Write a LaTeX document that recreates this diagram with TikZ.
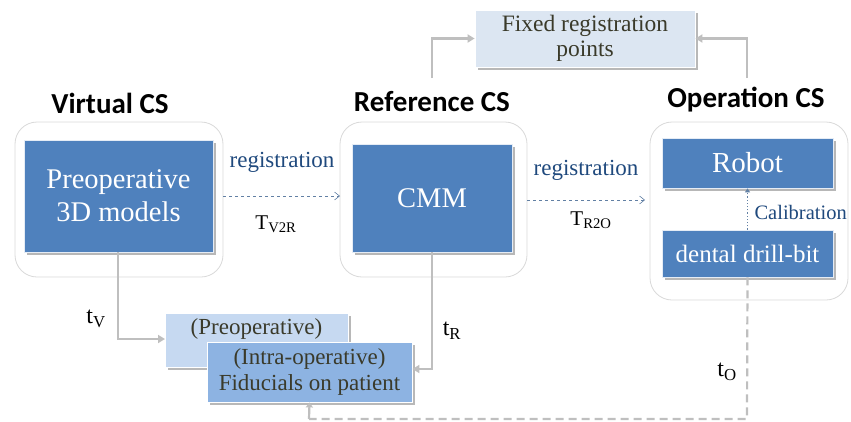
\documentclass[tikz,border=0pt]{standalone}
\usepackage{fontspec}
\setmainfont{Liberation Serif}
\newfontfamily\titlefont{Carlito}
\usetikzlibrary{arrows.meta,shadows}
\definecolor{boxblue}{HTML}{4F81BD}
\definecolor{lightblue}{HTML}{C6D9F1}
\definecolor{fixblue}{HTML}{DCE6F2}
\definecolor{midblue}{HTML}{8DB3E2}
\definecolor{regblue}{HTML}{1F497D}
\definecolor{txtdark}{HTML}{3A3A2A}
\definecolor{linegray}{HTML}{BFBFBF}
\definecolor{outergray}{HTML}{D9D9D9}
\tikzset{
  outerbox/.style={draw=outergray, rounded corners=22pt, line width=0.8pt, fill=white},
  bluebox/.style={fill=boxblue, draw=white!85!boxblue, line width=0.8pt, text=white,
     drop shadow={shadow xshift=2.5pt, shadow yshift=-2.5pt, fill=gray!70, opacity=0.8}},
  lightbox/.style={draw=white, line width=0.8pt, text=txtdark,
     drop shadow={shadow xshift=2.5pt, shadow yshift=-2.5pt, fill=gray!70, opacity=0.8}},
  cstitle/.style={font=\titlefont\bfseries\fontsize{29}{33}\selectfont, text=black},
  reglabel/.style={text=regblue, font=\fontsize{23}{26}\selectfont},
  tlabel/.style={text=black, font=\fontsize{21}{24}\selectfont},
  regarrow/.style={draw=regblue!70, dashed, line width=0.6pt, -{Straight Barb[length=5pt,width=8pt]}},
  grayarrow/.style={draw=linegray, line width=2.2pt, -{Triangle[length=7pt,width=8pt]}},
  graydash/.style={draw=linegray, line width=2.2pt, dash pattern=on 8pt off 5pt},
}
\begin{document}
\begin{tikzpicture}[x=1pt,y=-1pt]
\useasboundingbox (0,0) rectangle (851,421);
% outer boxes
\draw[outerbox] (15,122) rectangle (223,277);
\draw[outerbox] (340,122) rectangle (527,277);
\draw[outerbox] (650,122) rectangle (848,300);
% titles
\node[cstitle] (vt) at (110,103) {Virtual CS};
\node[cstitle] (rt) at (432,102) {Reference CS};
\node[cstitle] (ot) at (746,100) {Operation CS};
% blue boxes
\node[bluebox, minimum width=189pt, minimum height=112pt, align=center,
      font=\fontsize{28.5}{33}\selectfont] (pre) at (118.5,196) {Preoperative\\3D models};
\node[bluebox, minimum width=160pt, minimum height=108pt,
      font=\fontsize{28.5}{33}\selectfont] (cmm) at (432,198) {CMM};
\node[bluebox, minimum width=171pt, minimum height=50pt,
      font=\fontsize{29}{33}\selectfont] (robot) at (747.5,163) {Robot};
\node[bluebox, minimum width=171pt, minimum height=47pt,
      font=\fontsize{25}{29}\selectfont] (drill) at (747.5,253.5) {dental drill-bit};
% fixed registration points
\node[lightbox, fill=fixblue, minimum width=220pt, minimum height=57pt, align=center,
      font=\fontsize{23.5}{25}\selectfont] (fix) at (585,38.5) {Fixed registration\\points};
% preoperative fiducials
\node[lightbox, fill=lightblue, minimum width=183pt, minimum height=54pt, anchor=north west] (pfid) at (165,313) {};
\node[text=txtdark, font=\fontsize{23}{26}\selectfont] (pfidtxt) at (256.5,329) {(Preoperative)};
\node[lightbox, fill=midblue, minimum width=205pt, minimum height=60pt, align=center,
      font=\fontsize{23}{26}\selectfont] (ifid) at (309.5,372) {(Intra-operative)\\Fiducials on patient};
% registration arrows
\coordinate (r1s) at (223,196);
\coordinate (r1e) at (340,196);
\draw[regarrow] (r1s) -- (r1e);
\node[reglabel] (reg1) at (282,162) {registration};
\node[tlabel] (tv2r) at (276,224) {T\textsubscript{V2R}};
\coordinate (r2s) at (527,200);
\coordinate (r2e) at (645,200);
\draw[regarrow] (r2s) -- (r2e);
\node[reglabel] (reg2) at (586,170) {registration};
\node[tlabel] (tr2o) at (591,220) {T\textsubscript{R2O}};
% calibration
\draw[draw=regblue!70, line width=1.2pt, dotted, -{Triangle[length=4pt,width=5pt]}] (drill.north) -- (robot.south);
\node[reglabel, font=\fontsize{20.5}{23}\selectfont, anchor=west] (cal) at (751,212) {Calibration};
% gray arrows to fixed
\coordinate (fl) at (432,78);
\coordinate (fr) at (747,78);
\draw[grayarrow] (fl) |- (fix.west);
\draw[grayarrow] (fr) |- (fix.east);
% t_V
\coordinate (pv) at (118,252);
\draw[grayarrow] (pv) |- (pfid.west |- 0,339);
\node[tlabel, font=\fontsize{24}{27}\selectfont] (tv) at (96,319) {t\textsubscript{V}};
% t_R
\coordinate (rv) at (432,252);
\draw[grayarrow] (rv) |- (ifid.east |- 0,369);
\node[tlabel, font=\fontsize{24}{27}\selectfont] (tr) at (452,331) {t\textsubscript{R}};
% t_O
\coordinate (oc1) at (747,419);
\coordinate (oc2) at (309,419);
\draw[graydash] (drill.south) -- (oc1) -- (oc2);
\draw[draw=linegray, line width=2.2pt, -{Triangle[length=5pt,width=7pt]}] (oc2) -- (ifid.south);
\node[tlabel, font=\fontsize{24}{27}\selectfont] (to) at (727,372) {t\textsubscript{O}};
\end{tikzpicture}
\end{document}
